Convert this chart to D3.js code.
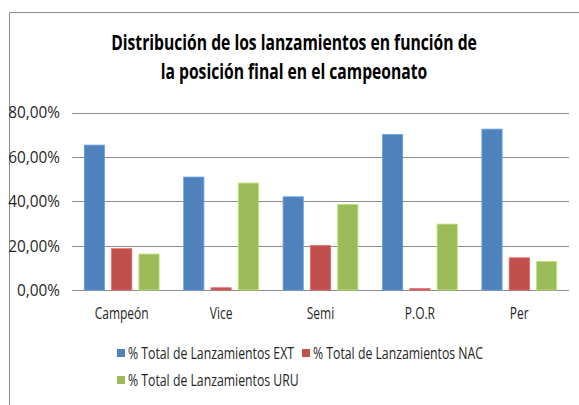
<!DOCTYPE html>
<html>
<head>
<meta charset="utf-8">
<script src="https://cdn.jsdelivr.net/npm/d3@7"></script>
<style>
    body { margin: 0; background: #fff; }
    svg { display: block; font-family: "Open Sans", "Liberation Sans", sans-serif; }
</style>
</head>
<body>
<svg width="579" height="405"></svg>
<script>
// chart values
let categories = ["Campeón", "Vice", "Semi", "P.O.R", "Per"];
let seriesNames = ["% Total de Lanzamientos EXT", "% Total de Lanzamientos NAC", "% Total de Lanzamientos URU"];
let extValues = [65.3, 50.9, 42.0, 70.1, 72.5];
let nacValues = [18.6, 1.0, 20.0, 0.6, 14.5];
let uruValues = [16.2, 48.2, 38.6, 29.7, 12.9];
let tickValues = [0, 20, 40, 60, 80];
let colors = ["#4F81BD", "#C0504D", "#9BBB59"];
let titleLines = ["Distribución de los lanzamientos en función de", "la posición final en el campeonato"];

let series = [extValues, nacValues, uruValues];

let svg = d3.select("svg");

// squeeze text horizontally so the wide fallback font looks like the narrow original
function squeeze(sel, refWidth) {
    let nodes = sel.nodes();
    let f = refWidth / nodes[0].getComputedTextLength();
    nodes.forEach(n => {
        let x0 = +n.getAttribute("x");
        n.setAttribute("x", x0 / f);
        n.setAttribute("transform", `scale(${f},1)`);
    });
}

// frame of the chart area (only top and left edges show)
svg.append("path")
    .attr("d", "M9.5,405 L9.5,12.5 L579,12.5")
    .attr("fill", "none")
    .attr("stroke", "#8c8c8c")
    .attr("stroke-width", 1);

let x = d3.scaleBand()
    .domain(categories)
    .range([72, 569]);

let xInner = d3.scaleBand()
    .domain(d3.range(series.length))
    .range([0, x.bandwidth()])
    .paddingInner(0.26)
    .paddingOuter(0.45);

let y = d3.scaleLinear()
    .domain([0, 80])
    .range([290, 112.5]);

// gridlines
svg.append("g")
    .selectAll("line")
    .data(tickValues)
    .enter()
    .append("line")
    .attr("x1", 72)
    .attr("x2", 569)
    .attr("y1", d => Math.round(y(d)) + 0.5)
    .attr("y2", d => Math.round(y(d)) + 0.5)
    .attr("stroke", "#8c8c8c")
    .attr("stroke-width", 1);

// y tick labels
let fmt = v => v.toFixed(2).replace(".", ",") + "%";
let yLabels = svg.append("g")
    .selectAll("text")
    .data(tickValues)
    .enter()
    .append("text")
    .attr("x", 60)
    .attr("y", d => y(d))
    .attr("dy", "0.38em")
    .attr("text-anchor", "end")
    .attr("font-size", 15.5)
    .attr("fill", "#262626")
    .text(d => fmt(d));
squeeze(yLabels, 43);

// bars
let groups = svg.append("g")
    .selectAll("g")
    .data(categories)
    .enter()
    .append("g")
    .attr("transform", d => `translate(${x(d)},0)`);

groups.selectAll("rect")
    .data((d, i) => series.map((s, k) => ({ k: k, v: s[i] })))
    .enter()
    .append("rect")
    .attr("x", d => xInner(d.k))
    .attr("width", xInner.bandwidth())
    .attr("y", d => y(d.v))
    .attr("height", d => y(0) - y(d.v))
    .attr("fill", d => colors[d.k])
    .attr("stroke", d => d3.color(colors[d.k]).brighter(0.6))
    .attr("stroke-width", 0.8);

// category labels
let xLabels = svg.append("g")
    .selectAll("text")
    .data(categories)
    .enter()
    .append("text")
    .attr("x", d => x(d) + x.bandwidth() / 2)
    .attr("y", 313)
    .attr("dy", "0.36em")
    .attr("text-anchor", "middle")
    .attr("font-size", 16)
    .attr("fill", "#262626")
    .text(d => d);
squeeze(xLabels, 54);

// title
let title = svg.append("g")
    .selectAll("text")
    .data(titleLines)
    .enter()
    .append("text")
    .attr("x", 294)
    .attr("y", (d, i) => 50 + i * 29)
    .attr("text-anchor", "middle")
    .attr("font-size", 21)
    .attr("font-weight", "bold")
    .attr("fill", "#000")
    .text(d => d);
squeeze(title, 366);

// legend
let legendPos = [[117, 353], [302, 353], [117, 380]];
let legend = svg.append("g")
    .selectAll("g")
    .data(seriesNames)
    .enter()
    .append("g")
    .attr("transform", (d, i) => `translate(${legendPos[i][0]},${legendPos[i][1]})`);

legend.append("rect")
    .attr("x", 0)
    .attr("y", -4)
    .attr("width", 8)
    .attr("height", 8)
    .attr("fill", (d, i) => colors[i]);

let legendText = legend.append("text")
    .attr("x", 11)
    .attr("y", 0)
    .attr("dy", "0.36em")
    .attr("font-size", 16)
    .attr("fill", "#262626")
    .text(d => d);
squeeze(legendText, 166);
</script>
</body>
</html>
